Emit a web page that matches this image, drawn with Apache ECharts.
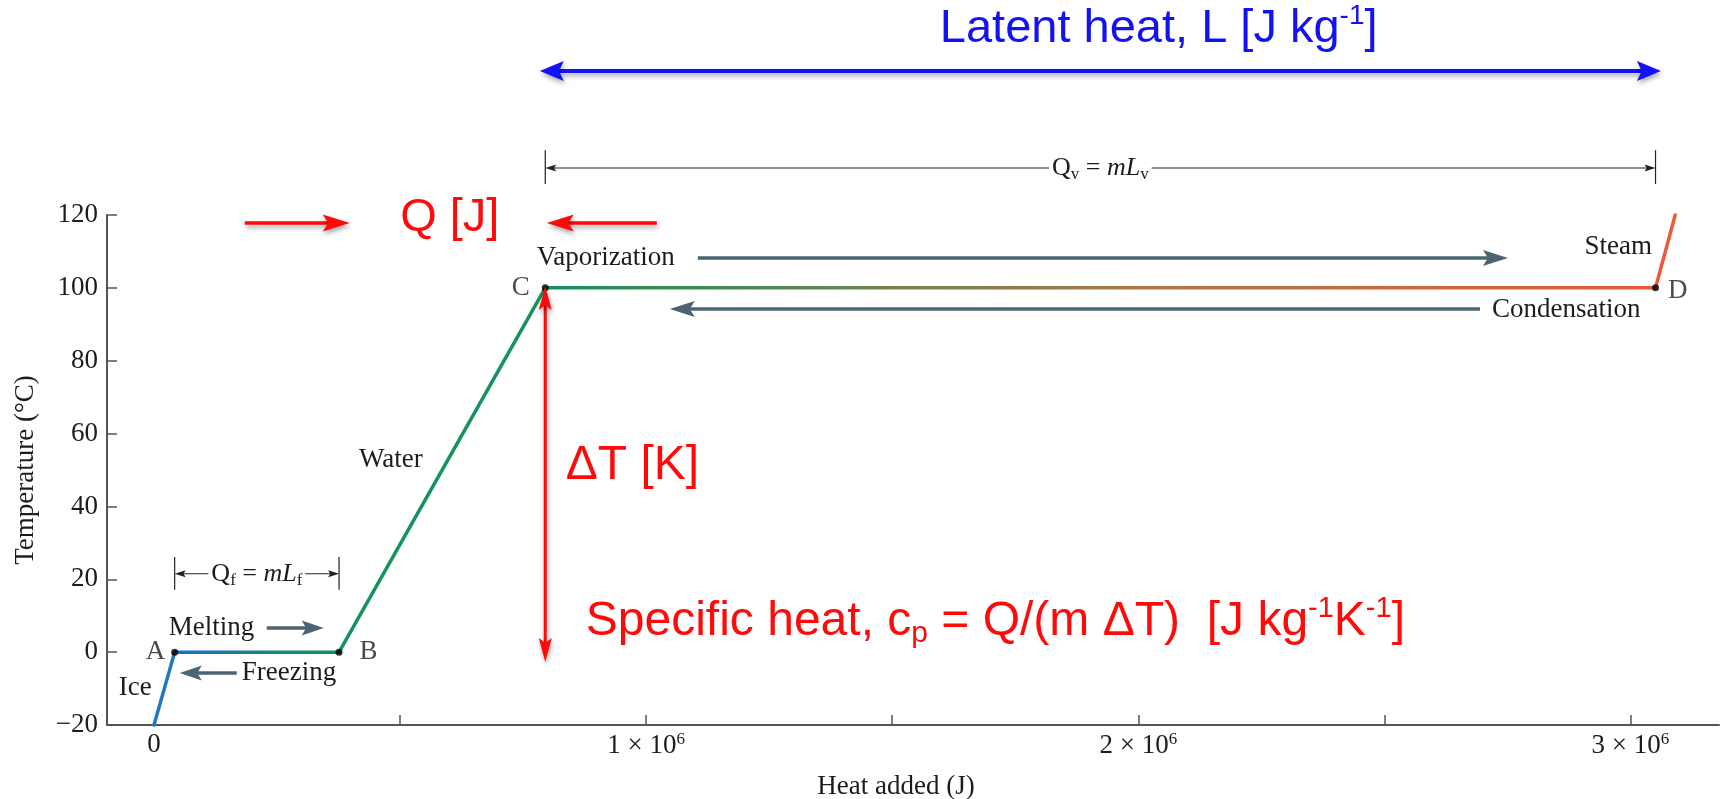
<!DOCTYPE html>
<html><head><meta charset="utf-8">
<script src="https://cdn.jsdelivr.net/npm/echarts@6/dist/echarts.min.js"></script>
<style>html,body{margin:0;padding:0;background:#fff}#c{width:1727px;height:799px}</style>
</head><body><div id="c"></div>
<script>
// ---- data ----
const heatAdded   = [0, 42000, 376000, 795000, 3051000, 3091000];   // J
const temperature = [-20, 0, 0, 100, 100, 120];                      // °C
const pointLabels = ['', 'A', 'B', 'C', 'D', ''];
const segmentNames = ['Ice', 'Melting', 'Water', 'Vaporization', 'Steam'];
const xTickValues  = [500000, 1000000, 1500000, 2000000, 2500000, 3000000];
const xLabelValues = [0, 1000000, 2000000, 3000000];
const yTickValues  = [-20, 0, 20, 40, 60, 80, 100, 120];

const SERIF = '"Liberation Serif", "Times New Roman", serif';
const SANS = '"Liberation Sans", Arial, sans-serif';
const FS = 27;
const TXT = '#1c1c1c';
const SLATE = '#4b6473';
const RED = '#ff0a0a';
const BLUE = '#1212f5';

const chart = echarts.init(document.getElementById('c'), null, {renderer: 'canvas'});

const gradMelt = new echarts.graphic.LinearGradient(0, 0, 1, 0, [
  {offset: 0, color: '#1b70bd'}, {offset: 1, color: '#14935c'}]);
const gradVap = new echarts.graphic.LinearGradient(0, 0, 1, 0, [
  {offset: 0, color: '#15915d'}, {offset: 0.3, color: '#6f8450'},
  {offset: 0.55, color: '#b0764a'}, {offset: 1, color: '#e45b3b'}]);
const segColors = ['#1f78c4', gradMelt, '#15935c', gradVap, '#ec5a3a'];

const segSeries = segmentNames.map((name, i) => ({
  type: 'line', name,
  data: [[heatAdded[i], temperature[i]], [heatAdded[i + 1], temperature[i + 1]]],
  symbol: 'none', silent: true, clip: false, z: 3,
  lineStyle: {width: 3.5, color: segColors[i], cap: 'round'}
}));

const labelSide = {A: ['left', 6], B: ['right', 17], C: ['left', 12], D: ['right', 9]};
const pointSeries = {
  type: 'scatter', silent: true, z: 5, symbolSize: 7,
  itemStyle: {color: '#000'},
  data: heatAdded.map((x, i) => ({value: [x, temperature[i]], name: pointLabels[i]}))
    .filter(d => d.name)
    .map(d => ({...d, label: {show: true, formatter: '{b}', position: labelSide[d.name][0],
      distance: labelSide[d.name][1], fontFamily: SERIF, fontSize: FS, color: TXT,
      offset: d.name === 'D' ? [0, 3] : [0, 0]}}))
};

chart.setOption({
  animation: false,
  backgroundColor: '#fff',
  grid: {left: 107, right: 8, top: 215, bottom: 74, containLabel: false, outerBoundsMode: 'none'},
  xAxis: {
    type: 'value', min: -95500, max: 3180000,
    name: 'Heat added (J)', nameLocation: 'middle', nameGap: 48,
    nameTextStyle: {fontFamily: SERIF, fontSize: FS, color: TXT, padding: [0, 34, 0, 0]},
    axisLine: {show: true, onZero: false, lineStyle: {color: '#555', width: 2}},
    axisTick: {show: true, inside: true, length: 10, customValues: xTickValues, lineStyle: {color: '#555', width: 1.5}},
    axisLabel: {
      customValues: xLabelValues, margin: 6, fontFamily: SERIF, fontSize: FS, color: TXT,
      formatter: v => v === 0 ? '0' : '{a|' + (v / 1e6) + ' × 10}{s|6}',
      rich: {
        a: {fontFamily: SERIF, fontSize: FS, color: TXT, lineHeight: 30},
        s: {fontFamily: SERIF, fontSize: 17, color: TXT, verticalAlign: 'top', lineHeight: 17}
      }
    },
    splitLine: {show: false}
  },
  yAxis: {
    type: 'value', min: -20, max: 120, interval: 20,
    name: 'Temperature (°C)', nameLocation: 'middle', nameGap: 68,
    nameTextStyle: {fontFamily: SERIF, fontSize: FS, color: TXT},
    axisLine: {show: true, onZero: false, lineStyle: {color: '#555', width: 2}},
    axisTick: {show: true, inside: true, length: 10, lineStyle: {color: '#555', width: 1.5}},
    axisLabel: {margin: 9, fontFamily: SERIF, fontSize: FS, color: TXT,
      formatter: v => String(v).replace('-', '\u2212')},
    splitLine: {show: false}
  },
  series: [...segSeries, pointSeries]
});

// ---- annotations, placed in data coordinates ----
function buildGraphics() {
  const P = (x, y) => chart.convertToPixel({gridIndex: 0}, [x, y]);
  const els = [];
  const shadowStyle = {shadowBlur: 5, shadowColor: 'rgba(0,0,0,0.35)', shadowOffsetX: 1, shadowOffsetY: 3};

  function arrow(tail, tip, o) {
    const p1 = P(tail[0], tail[1]), p2 = P(tip[0], tip[1]);
    const dx = p2[0] - p1[0], dy = p2[1] - p1[1], L = Math.hypot(dx, dy);
    const ux = dx / L, uy = dy / L, nx = -uy, ny = ux;
    const hl = o.headLen, hw = o.headW / 2;
    const sh = o.shadow ? shadowStyle : {};
    const s = o.both ? [p1[0] + ux * hl * 0.7, p1[1] + uy * hl * 0.7] : p1;
    const e = [p2[0] - ux * hl * 0.7, p2[1] - uy * hl * 0.7];
    els.push({type: 'line', silent: true, z: 10,
      shape: {x1: s[0], y1: s[1], x2: e[0], y2: e[1]},
      style: Object.assign({stroke: o.color, lineWidth: o.width}, sh)});
    const head = (t, sx, sy) => ({type: 'polygon', silent: true, z: 11,
      shape: {points: [[t[0], t[1]],
        [t[0] - sx * hl + nx * hw, t[1] - sy * hl + ny * hw],
        [t[0] - sx * hl * 0.8, t[1] - sy * hl * 0.8],
        [t[0] - sx * hl - nx * hw, t[1] - sy * hl - ny * hw]]},
      style: Object.assign({fill: o.color}, sh)});
    els.push(head(p2, ux, uy));
    if (o.both) els.push(head(p1, -ux, -uy));
  }
  function text(pt, str, o) {
    const p = P(pt[0], pt[1]);
    els.push({type: 'text', silent: true, z: 12, x: p[0], y: p[1],
      style: Object.assign({text: str, fill: o.color || TXT,
        fontFamily: o.family || SERIF, fontSize: o.size || FS,
        align: o.align || 'left', textAlign: o.align || 'left',
        verticalAlign: 'middle', textVerticalAlign: 'middle'}, o.extra || {})});
  }
  function dimension(x1, x2, yTop, yBot, yLine, label, rich) {
    [x1, x2].forEach(x => {
      const a = P(x, yTop), b = P(x, yBot);
      els.push({type: 'line', silent: true, z: 9, shape: {x1: a[0], y1: a[1], x2: b[0], y2: b[1]},
        style: {stroke: '#222', lineWidth: 1.2}});
    });
    arrow([(x1 + x2) / 2, yLine], [x1, yLine], {color: '#222', width: 1.1, headLen: 11, headW: 7});
    arrow([(x1 + x2) / 2, yLine], [x2, yLine], {color: '#222', width: 1.1, headLen: 11, headW: 7});
    text([(x1 + x2) / 2, yLine], label, {align: 'center',
      extra: {backgroundColor: '#fff', padding: [2, 3], rich}});
  }
  const dimRich = {
    r: {fontFamily: SERIF, fontSize: 26, fill: TXT, lineHeight: 30},
    i: {fontFamily: SERIF, fontSize: 26, fontStyle: 'italic', fill: TXT, lineHeight: 30},
    sub: {fontFamily: SERIF, fontSize: 17, fill: TXT, verticalAlign: 'bottom', lineHeight: 17}
  };

  // Blue latent-heat arrow and title
  arrow([784000, 159.5], [3062000, 159.5], {color: BLUE, width: 4, headLen: 24, headW: 20, both: true, shadow: true});
  text([1596800, 171], '{t|Latent heat, L [J kg}{s|-1}{t|]}', {color: BLUE, extra: {rich: {
    t: {fontFamily: SANS, fontSize: 47, fill: BLUE, lineHeight: 54},
    s: {fontFamily: SANS, fontSize: 28, fill: BLUE, verticalAlign: 'top', lineHeight: 28}}}});

  // Dimension lines
  dimension(heatAdded[3], heatAdded[4], 137.8, 128.5, 132.9, '{r|Q}{sub|v}{r| = }{i|mL}{sub|v}', dimRich);
  dimension(heatAdded[1], heatAdded[2], 26.1, 17.1, 21.5, '{r|Q}{sub|f}{r| = }{i|mL}{sub|f}', dimRich);

  // Phase-change process arrows and labels
  text([29900, 6.6], 'Melting', {});
  arrow([229100, 6.6], [344900, 6.6], {color: SLATE, width: 3.5, headLen: 22, headW: 15});
  text([178300, -5.7], 'Freezing', {});
  arrow([168100, -5.7], [52300, -5.7], {color: SLATE, width: 3.5, headLen: 22, headW: 15});
  text([-4600, -9.8], 'Ice', {align: 'right'});
  text([481100, 52.7], 'Water', {align: 'center'});
  text([777800, 108.2], 'Vaporization', {});
  arrow([1105000, 108.2], [2751200, 108.2], {color: SLATE, width: 3.5, headLen: 25, headW: 16});
  arrow([2694300, 94.2], [1048100, 94.2], {color: SLATE, width: 3.5, headLen: 25, headW: 16});
  text([2718600, 94], 'Condensation', {});
  text([3043800, 111.2], 'Steam', {align: 'right'});

  // Red annotations
  arrow([795000, -2.7], [795000, 100.5], {color: RED, width: 3, headLen: 24, headW: 13, both: true, shadow: true});
  text([836700, 51.1], '\u0394T [K]', {family: SANS, size: 48, color: RED});
  text([877400, 8.4], '{t|Specific heat, c}{sub|p}{t| = Q/(m \u0394T)  [J kg}{s|-1}{t|K}{s|-1}{t|]}', {color: RED, extra: {rich: {
    t: {fontFamily: SANS, fontSize: 48, fill: RED, lineHeight: 54},
    sub: {fontFamily: SANS, fontSize: 30, fill: RED, verticalAlign: 'bottom', lineHeight: 30},
    s: {fontFamily: SANS, fontSize: 29, fill: RED, verticalAlign: 'top', lineHeight: 29}}}});
  text([601000, 119.2], 'Q [J]', {family: SANS, size: 47, color: RED, align: 'center'});
  arrow([184400, 117.8], [397750, 117.8], {color: RED, width: 3.5, headLen: 27, headW: 17, shadow: true});
  arrow([1021700, 117.8], [798100, 117.8], {color: RED, width: 3.5, headLen: 27, headW: 17, shadow: true});

  chart.setOption({graphic: {elements: els}});
}
buildGraphics();
</script>
</body></html>
